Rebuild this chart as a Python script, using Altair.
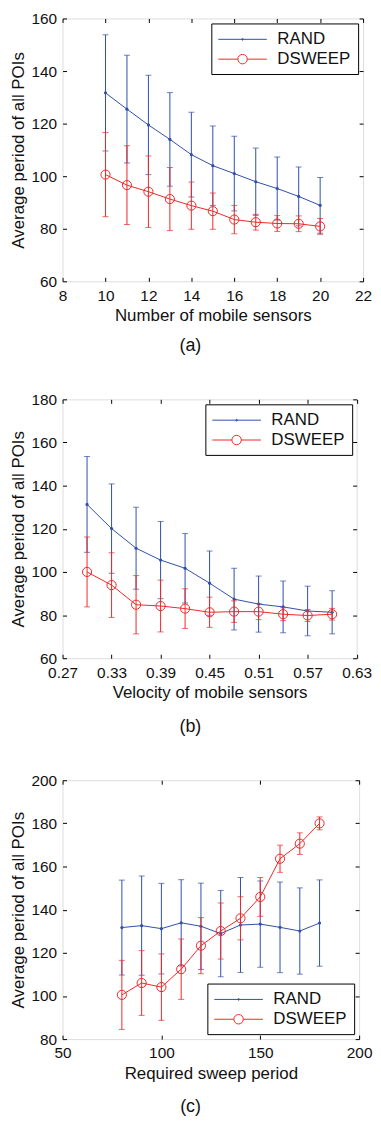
import altair as alt
import pandas as pd

FONT = "Liberation Sans"
BLUE = "#2F4FA8"
RED = "#F02626"
SERIES = ["RAND", "DSWEEP"]

# ---- panel (a): number of mobile sensors ----
a_x = [10, 11, 12, 13, 14, 15, 16, 17, 18, 19, 20]
a_rand_mean = [131.7, 125.5, 119.5, 114.0, 108.2, 104.0, 101.0, 97.9, 95.3, 92.3, 88.9]
a_rand_err = [22.1, 20.5, 18.9, 17.8, 16.1, 15.1, 14.2, 12.8, 12.0, 11.2, 10.6]
a_ds_mean = [100.6, 96.6, 94.1, 91.3, 88.8, 86.7, 83.5, 82.5, 82.0, 81.9, 80.9]
a_ds_err = [16.0, 15.0, 13.6, 12.0, 9.0, 6.9, 5.4, 3.0, 3.0, 3.0, 3.0]

# ---- panel (b): velocity of mobile sensors ----
b_x = [0.30, 0.33, 0.36, 0.39, 0.42, 0.45, 0.48, 0.51, 0.54, 0.57, 0.60]
b_rand_mean = [131.3, 120.1, 111.0, 105.5, 101.7, 94.8, 87.4, 85.1, 83.8, 81.9, 81.3]
b_rand_err = [22.2, 20.7, 19.0, 17.9, 16.1, 14.9, 14.3, 13.0, 12.0, 11.5, 10.0]
b_ds_mean = [100.0, 93.9, 84.8, 84.2, 83.0, 81.3, 81.6, 81.6, 80.4, 79.8, 80.4]
b_ds_err = [16.2, 15.0, 13.5, 12.0, 9.2, 7.0, 5.0, 3.7, 3.0, 2.8, 2.7]

# ---- panel (c): required sweep period ----
c_x = [80, 90, 100, 110, 120, 130, 140, 150, 160, 170, 180]
c_rand_mean = [131.7, 132.6, 131.2, 133.9, 132.3, 128.9, 132.9, 133.3, 131.8, 130.1, 133.8]
c_rand_err = [22.0, 23.0, 21.0, 20.0, 20.0, 20.0, 22.0, 20.0, 21.0, 20.0, 20.0]
c_ds_mean = [100.5, 106.0, 104.1, 112.4, 123.3, 130.1, 136.0, 145.9, 163.6, 170.6, 180.0]
c_ds_err = [16.0, 15.0, 15.4, 14.0, 13.0, 13.0, 10.0, 9.0, 6.3, 5.0, 3.0]

# axis ticks
a_xticks = [8, 10, 12, 14, 16, 18, 20, 22]
a_yticks = [60, 80, 100, 120, 140, 160]
b_xticks = [0.27, 0.33, 0.39, 0.45, 0.51, 0.57, 0.63]
b_yticks = [60, 80, 100, 120, 140, 160, 180]
c_xticks = [50, 100, 150, 200]
c_yticks = [80, 100, 120, 140, 160, 180, 200]

# legend symbols: line with marker (unit coords, symbol side = 17px -> 8.5px per unit)
LEG_RAND = "M-2.88,0L2.88,0M0.1,0A0.1,0.1,0,1,1,-0.1,0A0.1,0.1,0,1,1,0.1,0"
LEG_DS = ("M-2.88,0L-0.56,0M0.56,0L2.88,0"
          "M0.56,0A0.56,0.56,0,1,1,-0.56,0A0.56,0.56,0,1,1,0.56,0")

YTITLE = "Average period of all POIs"
TXT = "#111111"
TICK = 4
LABEL_SIZE = 15.5


def make_panel(xs, rm, re, dm, de, xdom, ydom, xticks, yticks, xfmt, xtitle,
               caption, cap_offset, w, h, legend_orient):
    rows = []
    for s, m, e in (("RAND", rm, re), ("DSWEEP", dm, de)):
        for xv, mv, ev in zip(xs, m, e):
            rows.append({"x": xv, "y": mv, "lo": mv - ev, "hi": mv + ev, "series": s})
    df = pd.DataFrame(rows)
    xsc = alt.Scale(domain=xdom, nice=False, zero=False)
    ysc = alt.Scale(domain=ydom, nice=False, zero=False)
    csc = alt.Scale(domain=SERIES, range=[BLUE, RED])

    # inward ticks on all four sides are drawn as dashed grid lines
    ax_x = alt.Axis(orient="bottom", values=xticks, format=xfmt, ticks=False, tickSize=0,
                    domain=False, grid=True, gridColor="black", gridOpacity=1, gridWidth=1,
                    gridDash=[TICK, h - 2 * TICK], labelPadding=7,
                    labelFont=FONT, labelFontSize=LABEL_SIZE, labelColor=TXT,
                    labelFlush=False, labelOverlap=False,
                    title=xtitle, titleFont=FONT, titleFontSize=17,
                    titleFontWeight="normal", titleColor=TXT, titlePadding=4)
    ax_y = alt.Axis(orient="left", values=yticks, ticks=False, tickSize=0,
                    domain=False, grid=True, gridColor="black", gridOpacity=1, gridWidth=1,
                    gridDash=[TICK, w - 2 * TICK], labelPadding=6,
                    labelFont=FONT, labelFontSize=LABEL_SIZE, labelColor=TXT,
                    labelFlush=False, labelOverlap=False,
                    title=YTITLE, titleFont=FONT, titleFontSize=17,
                    titleFontWeight="normal", titleColor=TXT, titlePadding=4)

    def X():
        return alt.X("x:Q", scale=xsc, axis=ax_x)

    def Y(field="y"):
        return alt.Y(f"{field}:Q", scale=ysc, axis=ax_y)

    layers = []
    for s, colr in (("RAND", BLUE), ("DSWEEP", RED)):
        b = alt.Chart(df).transform_filter(f"datum.series == '{s}'")
        bars = b.mark_rule(strokeWidth=1, color=colr).encode(x=X(), y=Y("lo"), y2="hi:Q")
        cap_lo = b.mark_tick(orient="horizontal", size=6, thickness=1, color=colr).encode(
            x=X(), y=Y("lo"))
        cap_hi = b.mark_tick(orient="horizontal", size=6, thickness=1, color=colr).encode(
            x=X(), y=Y("hi"))
        line = b.mark_line(strokeWidth=1, color=colr).encode(x=X(), y=Y())
        if s == "RAND":
            mk = b.mark_circle(size=10, opacity=1, color=colr).encode(x=X(), y=Y())
        else:
            mk = b.mark_point(shape="circle", size=85, filled=False, strokeWidth=1,
                              opacity=1, color=colr).encode(x=X(), y=Y())
        layers += [bars, cap_lo, cap_hi, line, mk]

    leg = alt.Legend(title=None, orient=legend_orient, offset=5, symbolSize=289,
                     symbolStrokeWidth=1, labelFont=FONT, labelFontSize=17,
                     labelColor=TXT, strokeColor="black", fillColor="white",
                     padding=7, rowPadding=3, symbolOffset=15.5, labelOffset=26,
                     cornerRadius=0, symbolOpacity=1)
    # legend-only layer: points placed far outside the domain and clipped away
    legend_layer = alt.Chart(df).transform_calculate(off="-100000").mark_point(
        filled=False, strokeWidth=1, clip=True).encode(
        x=X(), y=Y("off"),
        color=alt.Color("series:N", scale=csc, legend=leg),
        shape=alt.Shape("series:N", scale=alt.Scale(domain=SERIES, range=[LEG_RAND, LEG_DS]),
                        legend=leg),
    )
    layers.append(legend_layer)

    ch = alt.layer(*layers).properties(
        width=w, height=h,
        title=alt.TitleParams(caption, orient="bottom", anchor="middle", frame="bounds",
                              font=FONT, fontSize=18, fontWeight="normal", color=TXT,
                              offset=cap_offset),
    )
    return ch


pa = make_panel(a_x, a_rand_mean, a_rand_err, a_ds_mean, a_ds_err, [8, 22], [60, 160],
                a_xticks, a_yticks, "d", "Number of mobile sensors", "(a)", 14, 303, 265,
                "top-right")
pb = make_panel(b_x, b_rand_mean, b_rand_err, b_ds_mean, b_ds_err, [0.27, 0.63], [60, 180],
                b_xticks, b_yticks, ".2f", "Velocity of mobile sensors", "(b)", 18, 296.5, 261,
                "top-right")
pc = make_panel(c_x, c_rand_mean, c_rand_err, c_ds_mean, c_ds_err, [50, 200], [80, 200],
                c_xticks, c_yticks, "d", "Required sweep period", "(c)", 16.5, 299, 261,
                "bottom-right")

chart = alt.vconcat(pa, pb, pc, spacing=36).properties(
    padding={"left": 0, "top": -2, "right": 0, "bottom": 0}
).configure_view(
    stroke="black", strokeWidth=1
).configure(background="white")

chart.save("out.html", embed_options={"renderer": "svg", "actions": False})
